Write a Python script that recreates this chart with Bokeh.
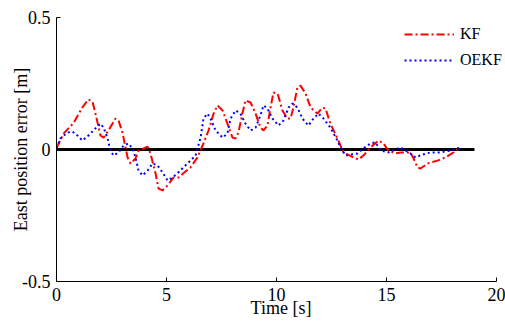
from bokeh.plotting import figure
from bokeh.models import Range1d, FixedTicker, Legend, LegendItem
from bokeh.embed import file_html
from bokeh.resources import INLINE

kf_t = [0, 0.32, 0.77, 1.18, 1.45, 1.64, 1.77, 2.0, 2.14, 2.36,
        2.68, 2.82, 3.0, 3.23, 3.36, 3.59, 3.73, 4.14, 4.27, 4.5,
        4.64, 4.82, 5.05, 5.32, 5.55, 5.77, 6.09, 6.41, 6.68, 6.91,
        7.14, 7.32, 7.55, 7.77, 8.0, 8.14, 8.27, 8.45, 8.59, 8.82,
        9.05, 9.27, 9.41, 9.59, 9.73, 9.86, 10.05, 10.27, 10.5, 10.64,
        10.77, 10.95, 11.09, 11.32, 11.55, 11.86, 12.09, 12.23, 12.45, 12.77,
        12.91, 13.05, 13.5, 13.73, 13.95, 14.27, 14.64, 14.86, 15.09, 15.41,
        15.64, 16.09, 16.23, 16.41, 16.55, 16.86, 17.32, 17.68, 18.05, 18.27]
kf_err = [0.005, 0.06, 0.10, 0.16, 0.19, 0.18, 0.136, 0.053, 0.045, 0.072,
          0.117, 0.11, 0.064, -0.03, -0.053, -0.034, -0.004, 0.011, -0.015, -0.09,
          -0.148, -0.155, -0.136, -0.106, -0.106, -0.09, -0.068, -0.03, 0.023, 0.072,
          0.136, 0.167, 0.148, 0.098, 0.045, 0.042, 0.064, 0.136, 0.186, 0.178,
          0.136, 0.083, 0.072, 0.091, 0.159, 0.216, 0.212, 0.148, 0.117, 0.117,
          0.159, 0.235, 0.242, 0.212, 0.159, 0.136, 0.159, 0.155, 0.098, 0.042,
          0.015, -0.011, -0.03, -0.038, -0.023, 0.008, 0.034, 0.023, -0.004, -0.015,
          -0.011, -0.011, -0.034, -0.068, -0.072, -0.053, -0.042, -0.03, -0.011, 0.004]

oekf_t = [0, 0.18, 0.5, 0.73, 0.95, 1.18, 1.45, 1.77, 2.0, 2.14,
          2.32, 2.45, 2.59, 2.82, 3.05, 3.27, 3.45, 3.59, 3.73, 3.91,
          4.14, 4.36, 4.59, 4.82, 5.05, 5.27, 5.5, 5.77, 6.09, 6.32,
          6.55, 6.68, 6.86, 7.0, 7.23, 7.55, 7.77, 7.91, 8.14, 8.36,
          8.59, 8.82, 9.05, 9.27, 9.41, 9.59, 9.82, 10.09, 10.32, 10.55,
          10.73, 10.95, 11.18, 11.45, 11.68, 11.91, 12.14, 12.45, 12.77, 12.91,
          13.14, 13.68, 13.95, 14.27, 14.5, 14.73, 15.09, 15.41, 15.64, 15.86,
          16.09, 16.32, 16.64, 17.0, 17.45, 17.91, 18.23, 18.36]
oekf_err = [0.005, 0.042, 0.064, 0.068, 0.053, 0.034, 0.053, 0.08, 0.098, 0.083,
            0.042, -0.004, -0.023, -0.011, 0.015, 0.023, 0.004, -0.03, -0.08, -0.098,
            -0.08, -0.053, -0.06, -0.087, -0.117, -0.106, -0.09, -0.068, -0.042, -0.023,
            0.045, 0.117, 0.136, 0.117, 0.072, 0.045, 0.061, 0.117, 0.148, 0.136,
            0.098, 0.072, 0.083, 0.129, 0.167, 0.155, 0.117, 0.091, 0.11, 0.159,
            0.174, 0.159, 0.117, 0.091, 0.117, 0.136, 0.117, 0.083, 0.034, 0.008,
            -0.023, -0.015, 0.004, 0.023, 0.027, -0.004, -0.011, 0.0, 0.008, -0.004,
            -0.015, -0.03, -0.019, -0.011, -0.011, -0.004, 0.004, 0.011]

zero_t = [0, 19]
zero_v = [0, 0]

x_ticks = [0, 5, 10, 15, 20]
y_ticks = [-0.5, 0, 0.5]
y_tick_labels = {-0.5: "-0.5", 0: "0", 0.5: "0.5"}

FONT = "Liberation Serif"

# frame runs to the right edge so the legend text is not clipped;
# the x axis itself is bounded to 0..20
X_END = 20 * 449 / 440

p = figure(width=505, height=325, output_backend="svg", toolbar_location=None,
           x_range=Range1d(0, X_END), y_range=Range1d(-0.5, 0.5),
           min_border_left=56, min_border_top=17, min_border_right=0, min_border_bottom=44)
p.outline_line_color = None
p.xgrid.visible = False
p.ygrid.visible = False
p.background_fill_color = "white"

for ax in (p.xaxis[0], p.yaxis[0]):
    ax.axis_line_color = "black"
    ax.axis_line_width = 1
    ax.major_tick_in = 4
    ax.major_tick_out = 0
    ax.minor_tick_line_color = None
    ax.major_tick_line_color = "black"
    ax.major_label_text_font = FONT
    ax.major_label_text_font_size = "18px"
    ax.major_label_text_color = "black"
    ax.axis_label_text_font = FONT
    ax.axis_label_text_font_size = "18px"
    ax.axis_label_text_font_style = "normal"
    ax.axis_label_text_color = "black"

p.xaxis[0].bounds = (0, 20)
p.xaxis[0].ticker = FixedTicker(ticks=x_ticks)
p.yaxis[0].ticker = FixedTicker(ticks=y_ticks)
p.yaxis[0].major_label_overrides = y_tick_labels
p.xaxis[0].major_label_standoff = 6
p.yaxis[0].major_label_standoff = 6
p.xaxis[0].axis_label = "Time [s]"
p.yaxis[0].axis_label = "East position error [m]"
p.xaxis[0].axis_label_standoff = -6
p.yaxis[0].axis_label_standoff = -12

p.line(zero_t, zero_v, line_color="black", line_width=3)
r_kf = p.line(kf_t, kf_err, line_color="#ff0000", line_width=2, line_dash="8 3 2 3")
r_oekf = p.line(oekf_t, oekf_err, line_color="#0000ff", line_width=2, line_dash="2 3")

legend = Legend(items=[LegendItem(label="KF", renderers=[r_kf]),
                       LegendItem(label="OEKF", renderers=[r_oekf])],
                location=(348, 211), orientation="vertical",
                border_line_color=None, background_fill_alpha=0,
                padding=0, margin=0, spacing=6,
                glyph_width=50, glyph_height=20, label_height=20,
                label_standoff=6,
                label_text_font=FONT, label_text_font_size="16px",
                label_text_color="black")
p.add_layout(legend)

open("out.html", "w").write(file_html(p, INLINE))
